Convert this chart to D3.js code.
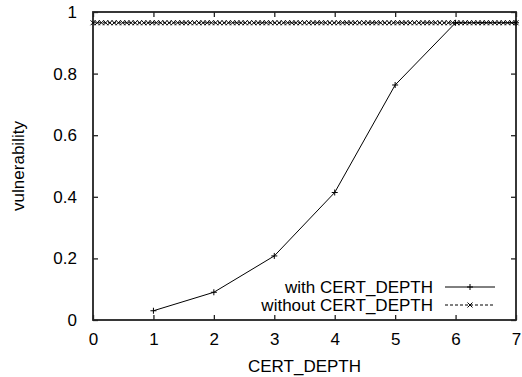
<!DOCTYPE html>
<html>
<head>
<meta charset="utf-8">
<script src="https://cdn.jsdelivr.net/npm/d3@7"></script>
<style>
	body { margin: 0; background: #fff; }
	svg { display: block; font-family: "Liberation Sans", Arial, sans-serif; }
	.axis text { font-size: 17px; fill: #000; }
</style>
</head>
<body>
<script>
(function() {

	// data
	var withX = [1, 2, 3, 4, 5, 6, 7];
	var withY = [0.03, 0.09, 0.208, 0.414, 0.763, 0.965, 0.965];

	// the "without" series is a flat run of many samples
	var withoutX = [0, 0.07, 0.14, 0.21, 0.28, 0.35, 0.42, 0.49, 0.56, 0.63, 0.7, 0.77, 0.84, 0.91, 0.98,
		1.05, 1.12, 1.19, 1.26, 1.33, 1.4, 1.47, 1.54, 1.61, 1.68, 1.75, 1.82, 1.89, 1.96,
		2.03, 2.1, 2.17, 2.24, 2.31, 2.38, 2.45, 2.52, 2.59, 2.66, 2.73, 2.8, 2.87, 2.94,
		3.01, 3.08, 3.15, 3.22, 3.29, 3.36, 3.43, 3.5, 3.57, 3.64, 3.71, 3.78, 3.85, 3.92, 3.99,
		4.06, 4.13, 4.2, 4.27, 4.34, 4.41, 4.48, 4.55, 4.62, 4.69, 4.76, 4.83, 4.9, 4.97,
		5.04, 5.11, 5.18, 5.25, 5.32, 5.39, 5.46, 5.53, 5.6, 5.67, 5.74, 5.81, 5.88, 5.95,
		6.02, 6.09, 6.16, 6.23, 6.3, 6.37, 6.44, 6.51, 6.58, 6.65, 6.72, 6.79, 6.86, 6.93, 7.0];
	var withoutLevel = 0.965;

	var xTicks = [0, 1, 2, 3, 4, 5, 6, 7];
	var yTicks = [0, 0.2, 0.4, 0.6, 0.8, 1];
	var seriesNames = ["with CERT_DEPTH", "without CERT_DEPTH"];


	// initial configurations parameters
	var margin = { top: 12, right: 6, bottom: 57, left: 93 };
	var width = 522 - margin.left - margin.right;
	var height = 377 - margin.top - margin.bottom;

	var svg = d3.select("body")
		.append("svg")
		.attr("width", 522)
		.attr("height", 377)
	.append("g")
		.attr("transform", "translate(" + margin.left + "," + margin.top + ")");

	var x = d3.scaleLinear().domain([0, 7]).range([0, width]);
	var y = d3.scaleLinear().domain([0, 1]).range([height, 0]);

	var fmt = function(d) { return d3.format("")(d); };

	// bottom and left axes, ticks pointing inward like gnuplot
	svg.append("g")
		.attr("class", "x axis")
		.attr("transform", "translate(0," + height + ")")
		.call(d3.axisBottom(x).tickValues(xTicks).tickFormat(fmt).tickSizeInner(-5).tickSizeOuter(0).tickPadding(13));

	svg.append("g")
		.attr("class", "y axis")
		.call(d3.axisLeft(y).tickValues(yTicks).tickFormat(fmt).tickSizeInner(-5).tickSizeOuter(0).tickPadding(16));

	// mirrored ticks on top and right
	svg.append("g")
		.attr("class", "axis")
		.call(d3.axisTop(x).tickValues(xTicks).tickFormat("").tickSizeInner(-5).tickSizeOuter(0));

	svg.append("g")
		.attr("class", "axis")
		.attr("transform", "translate(" + width + ",0)")
		.call(d3.axisRight(y).tickValues(yTicks).tickFormat("").tickSizeInner(-5).tickSizeOuter(0));

	svg.selectAll(".axis path").remove();
	svg.selectAll(".axis line").attr("stroke", "#222").attr("stroke-width", 1.3);

	// frame
	svg.append("rect")
		.attr("width", width)
		.attr("height", height)
		.attr("fill", "none")
		.attr("stroke", "#222")
		.attr("stroke-width", 1.8);

	// axis titles
	svg.append("text")
		.attr("x", width / 2)
		.attr("y", height + 52)
		.attr("text-anchor", "middle")
		.style("font-size", "17px")
		.text("CERT_DEPTH");

	svg.append("text")
		.attr("transform", "rotate(-90)")
		.attr("x", -height / 2)
		.attr("y", -69)
		.attr("text-anchor", "middle")
		.style("font-size", "17px")
		.text("vulnerability");


	var plusPath = function(cx, cy, s) {
		return "M" + (cx - s) + "," + cy + "h" + (2 * s) + "M" + cx + "," + (cy - s) + "v" + (2 * s);
	};
	var crossPath = function(cx, cy, s) {
		return "M" + (cx - s) + "," + (cy - s) + "l" + (2 * s) + "," + (2 * s) +
			"M" + (cx - s) + "," + (cy + s) + "l" + (2 * s) + "," + (-2 * s);
	};

	// without series: dashed line plus x markers
	var withoutData = withoutX.map(function(d) { return { x: d, y: withoutLevel }; });

	var line = d3.line()
		.x(function(d) { return x(d.x); })
		.y(function(d) { return y(d.y); });

	svg.append("path")
		.datum(withoutData)
		.attr("d", line)
		.attr("fill", "none")
		.attr("stroke", "#000")
		.attr("stroke-width", 1)
		.attr("stroke-dasharray", "3,2");

	svg.append("path")
		.attr("d", withoutData.map(function(d) { return crossPath(x(d.x), y(d.y), 2.5); }).join(""))
		.attr("fill", "none")
		.attr("stroke", "#000")
		.attr("stroke-width", 1);

	// with series: solid line plus + markers
	var withData = withX.map(function(d, i) { return { x: d, y: withY[i] }; });

	svg.append("path")
		.datum(withData)
		.attr("d", line)
		.attr("fill", "none")
		.attr("stroke", "#000")
		.attr("stroke-width", 1);

	svg.append("path")
		.attr("d", withData.map(function(d) { return plusPath(x(d.x), y(d.y), 3); }).join(""))
		.attr("fill", "none")
		.attr("stroke", "#000")
		.attr("stroke-width", 1);


	// legend, bottom right inside the frame
	var legend = svg.append("g")
		.attr("transform", "translate(" + (width - 71) + "," + (height - 33) + ")");

	seriesNames.forEach(function(name, i) {
		var row = legend.append("g").attr("transform", "translate(0," + (i * 18) + ")");

		row.append("text")
			.attr("x", -12)
			.attr("dy", "0.35em")
			.attr("text-anchor", "end")
			.style("font-size", "17px")
			.text(name);

		row.append("line")
			.attr("x1", 0)
			.attr("x2", 50)
			.attr("stroke", "#000")
			.attr("stroke-width", 1)
			.attr("stroke-dasharray", i == 0 ? null : "3,2");

		row.append("path")
			.attr("d", i == 0 ? plusPath(25, 0, 3) : crossPath(25, 0, 2.5))
			.attr("fill", "none")
			.attr("stroke", "#000")
			.attr("stroke-width", 1);
	});

})();
</script>
</body>
</html>
